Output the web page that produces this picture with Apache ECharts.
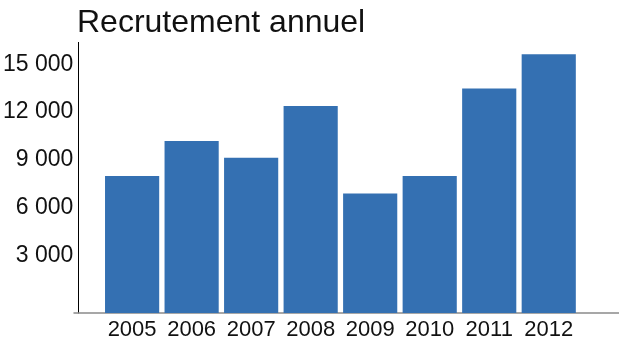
<!DOCTYPE html>
<html>
<head>
<meta charset="utf-8">
<script src="https://cdn.jsdelivr.net/npm/echarts@6/dist/echarts.min.js"></script>
<style>
html,body{margin:0;padding:0;background:#fff;}
#c{width:619px;height:342px;}
</style>
</head>
<body>
<div id="c"></div>
<script>
const title = 'Recrutement annuel';
const years = ['2005','2006','2007','2008','2009','2010','2011','2012'];
const recrutements = [8600, 10800, 9750, 13000, 7500, 8600, 14100, 16250];
const yTicks = [3000, 6000, 9000, 12000, 15000];

const fmt = v => String(v).replace(/\B(?=(\d{3})+(?!\d))/g, ' ');

const chart = echarts.init(document.getElementById('c'), null, {renderer: 'canvas'});
chart.setOption({
  animation: false,
  backgroundColor: '#fff',
  title: {
    text: title,
    left: 77, top: 7, padding: 0,
    textStyle: {fontFamily: 'Liberation Sans', fontSize: 32, fontWeight: 'normal', color: '#111'}
  },
  grid: [
    {left: 102, right: 40.5, top: 42.4, bottom: 342 - 313},
    {left: 74, right: 0, top: 42.4, bottom: 342 - 313}
  ],
  xAxis: [
    {
      type: 'category', data: years, gridIndex: 0,
      axisLine: {show: false}, axisTick: {show: false},
      axisLabel: {interval: 0, margin: 6, fontFamily: 'Liberation Sans', fontSize: 22, lineHeight: 22, color: '#111'}
    },
    {
      type: 'value', gridIndex: 1, min: 0, max: 1,
      axisLine: {show: true, onZero: false, lineStyle: {color: '#8a8a8a', width: 1.5}},
      axisTick: {show: false}, axisLabel: {show: false}, splitLine: {show: false}
    }
  ],
  yAxis: [
    {
      type: 'value', gridIndex: 0, min: 0, max: 17000, interval: 3000, offset: 24,
      axisLine: {show: true, lineStyle: {color: '#000', width: 1}},
      axisTick: {show: false}, splitLine: {show: false},
      axisLabel: {
        margin: 5, fontFamily: 'Liberation Sans', fontSize: 23, lineHeight: 20, color: '#111',
        verticalAlign: 'bottom',
        formatter: v => yTicks.indexOf(v) >= 0 ? fmt(v) : ''
      }
    },
    {type: 'value', gridIndex: 1, show: false}
  ],
  series: [{
    type: 'bar', data: recrutements, xAxisIndex: 0, yAxisIndex: 0,
    barCategoryGap: '9%',
    itemStyle: {color: '#3470b2'}
  }]
});
</script>
</body>
</html>
